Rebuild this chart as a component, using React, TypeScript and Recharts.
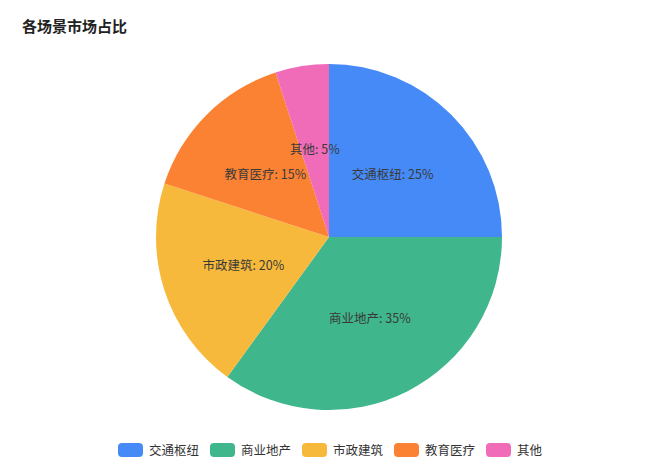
import { PieChart, Pie, Cell, Legend } from "recharts";

const CATEGORIES = ["交通枢纽", "商业地产", "市政建筑", "教育医疗", "其他"];
const SHARES = [25, 35, 20, 15, 5];
const COLORS = ["#458af7", "#3fb68b", "#f7b93b", "#fc8233", "#f06cb9"];

const DATA = CATEGORIES.map((name, i) => ({ name, value: SHARES[i] }));

const FONT = '"Noto Sans CJK SC", "Noto Sans", sans-serif';
const RADIAN = Math.PI / 180;

// label in the middle of each slice, like an "inner" label
function renderLabel(props: any) {
  const { cx, cy, midAngle, outerRadius, name, value } = props;
  const r = outerRadius * 0.52;
  const x = cx + r * Math.cos(-midAngle * RADIAN);
  const y = cy + r * Math.sin(-midAngle * RADIAN);
  return (
    <text
      x={x}
      y={y}
      fill="#3a3a3a"
      fontSize={12.5}
      fontFamily={FONT}
      textAnchor="middle"
      dominantBaseline="central"
    >
      {`${name}: ${value}%`}
    </text>
  );
}

function renderLegend() {
  return (
    <div
      style={{
        display: "flex",
        justifyContent: "center",
        alignItems: "center",
        fontFamily: FONT,
        fontSize: 12.5,
        color: "#333",
      }}
    >
      {CATEGORIES.map((name, i) => (
        <div
          key={name}
          style={{
            display: "flex",
            alignItems: "center",
            marginLeft: i === 0 ? 0 : 11,
          }}
        >
          <span
            style={{
              display: "inline-block",
              width: 25,
              height: 14,
              borderRadius: 4,
              background: COLORS[i],
              marginRight: 6,
            }}
          />
          <span>{name}</span>
        </div>
      ))}
    </div>
  );
}

export default function App() {
  return (
    <div
      style={{
        position: "absolute",
        left: 0,
        top: 0,
        width: 660,
        height: 474,
        background: "#fff",
      }}
    >
      <div
        style={{
          position: "absolute",
          left: 22,
          top: 15,
          fontFamily: FONT,
          fontSize: 15,
          fontWeight: 700,
          color: "#222",
          zIndex: 1,
        }}
      >
        各场景市场占比
      </div>
      <PieChart
        width={660}
        height={474}
        margin={{ top: 0, right: 0, bottom: 0, left: 0 }}
      >
        <Pie
          data={DATA}
          dataKey="value"
          nameKey="name"
          cx={329}
          cy={237}
          outerRadius={173}
          startAngle={90}
          endAngle={-270}
          stroke="none"
          label={renderLabel}
          labelLine={false}
          isAnimationActive={false}
        >
          {DATA.map((d, i) => (
            <Cell key={d.name} fill={COLORS[i]} />
          ))}
        </Pie>
        <Legend
          content={renderLegend}
          verticalAlign="bottom"
          wrapperStyle={{ bottom: 15 }}
        />
      </PieChart>
    </div>
  );
}
